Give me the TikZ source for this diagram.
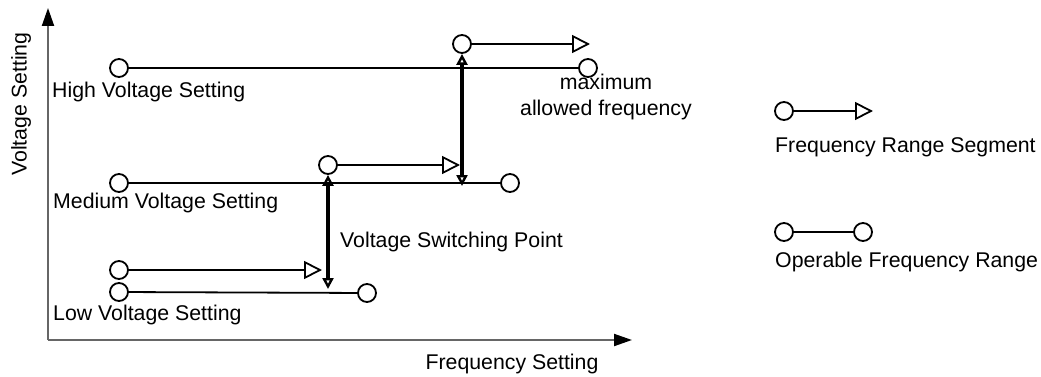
\documentclass[tikz,border=0pt]{standalone}
\usepackage{fontspec}
\setmainfont{Liberation Sans}
\usetikzlibrary{arrows.meta}
\begin{document}
\begin{tikzpicture}[x=1pt,y=-1pt,
  font=\fontsize{21.3}{25.5}\selectfont,
  dot/.style={circle,draw,fill=white,line width=1.8pt,minimum size=18pt,inner sep=0pt},
  seg/.style={line width=1.8pt},
  segarrow/.style={line width=1.8pt,-{Triangle[open,length=18pt,width=18pt]}},
  switch/.style={line width=3.6pt,{Triangle[open,length=11pt,width=11pt,line width=2.4pt]}-{Triangle[open,length=11pt,width=11pt,line width=2.4pt]}},
  axis/.style={draw=black!60,line width=2pt,-{Triangle[length=18pt,width=12pt,color=black]}},
  lbl/.style={inner sep=0pt,anchor=west}]
\useasboundingbox (0,0) rectangle (1041,377);
% axes
\coordinate (O) at (48,340);
\coordinate (ytop) at (48,8);
\coordinate (xend) at (632,340);
\draw[axis] (O) -- (ytop);
\draw[axis] (O) -- (xend);
\node[inner sep=0pt,rotate=90] (ylab) at (21,104) {Voltage Setting};
\node[inner sep=0pt] (xlab) at (512,364) {Frequency Setting};
% high
\node[dot] (h1) at (119,68) {};
\node[dot] (h2) at (588,68) {};
\draw[seg] (h1) -- (h2);
\node[lbl] (hl) at (52,92) {High Voltage Setting};
\node[inner sep=0pt,align=center] (mx) at (606,97) {maximum\\allowed frequency};
% high segment
\node[dot] (hs) at (462,44) {};
\coordinate (hse) at (590,44);
\draw[segarrow] (hs) -- (hse);
% medium
\node[dot] (m1) at (119,183) {};
\node[dot] (m2) at (510,183) {};
\draw[seg] (m1) -- (m2);
\node[lbl] (ml) at (53,203) {Medium Voltage Setting};
\node[dot] (ms) at (328,165) {};
\coordinate (mse) at (460,165);
\draw[segarrow] (ms) -- (mse);
% low
\node[dot] (l1) at (119,292) {};
\node[dot] (l2) at (367,293) {};
\draw[seg] (l1) -- (l2);
\node[dot] (ls) at (119,270) {};
\coordinate (lse) at (322,270);
\draw[segarrow] (ls) -- (lse);
\node[lbl] (ll) at (53,315) {Low Voltage Setting};
% switching arrows
\coordinate (s1) at (462,186);
\draw[switch] (hs.south) -- (s1);
\coordinate (s2) at (328,289);
\draw[switch] (ms.south) -- (s2);
\node[lbl] (vsp) at (340,242) {Voltage Switching Point};
% legend
\node[dot] (g1) at (784,111) {};
\coordinate (g1e) at (873,111);
\draw[segarrow] (g1) -- (g1e);
\node[lbl] (g1l) at (775,147) {Frequency Range Segment};
\node[dot] (g2) at (784,232) {};
\node[dot] (g2b) at (863,232) {};
\draw[seg] (g2) -- (g2b);
\node[lbl] (g2l) at (775,262) {Operable Frequency Range};
\end{tikzpicture}
\end{document}
